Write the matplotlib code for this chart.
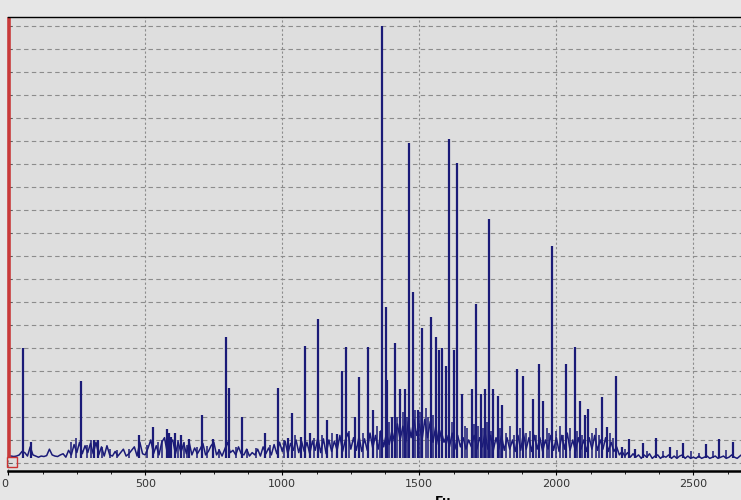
import numpy as np
import matplotlib.pyplot as plt

noise_step = 10
noise_amp = [
    0.30, 0.30, 0.28, 0.30, 0.35, 0.50, 0.45, 0.30, 0.70, 0.35,
    0.30, 0.25, 0.30, 0.28, 0.32, 0.60, 0.35, 0.30, 0.28, 0.35,
    0.40, 0.25, 0.55, 0.35, 0.80, 0.45, 0.90, 0.40, 0.75, 0.45,
    0.85, 0.40, 0.90, 0.35, 0.70, 0.30, 0.75, 0.35, 0.30, 0.50,
    0.30, 0.45, 0.60, 0.30, 0.40, 0.55, 0.70, 0.30, 0.90, 0.40,
    0.35, 0.65, 1.00, 0.40, 0.75, 0.35, 0.90, 1.10, 0.45, 0.85,
    1.00, 0.40, 0.90, 0.45, 0.85, 0.40, 0.90, 0.35, 0.65, 0.40,
    0.60, 0.85, 0.35, 0.50, 0.75, 0.90, 0.35, 0.55, 0.30, 0.60,
    0.90, 0.45, 0.55, 0.35, 0.70, 0.40, 0.35, 0.60, 0.30, 0.45,
    0.35, 0.60, 0.30, 0.70, 0.40, 0.65, 0.35, 0.80, 0.40, 0.90,
    0.50, 0.95, 0.40, 0.85, 0.55, 1.00, 0.45, 0.95, 0.50, 0.90,
    0.40, 0.95, 0.55, 1.10, 0.45, 1.05, 0.40, 1.00, 0.50, 0.95,
    0.55, 1.20, 0.50, 1.00, 1.30, 0.60, 1.10, 0.55, 1.15, 0.50,
    1.05, 0.55, 1.30, 0.65, 1.20, 0.60, 1.40, 0.70, 1.30, 0.80,
    1.40, 0.90, 1.70, 1.00, 1.60, 0.90, 1.80, 1.10, 1.90, 1.20,
    1.70, 1.00, 1.90, 1.10, 1.80, 0.90, 1.60, 0.80, 1.40, 0.90,
    1.20, 0.70, 1.30, 0.60, 1.20, 0.70, 1.10, 0.60, 1.00, 0.70,
    1.20, 0.60, 1.10, 0.70, 1.30, 0.60, 1.20, 0.55, 1.10, 0.60,
    1.20, 0.55, 1.10, 0.60, 1.00, 0.50, 1.20, 0.55, 1.30, 0.60,
    1.10, 0.50, 1.20, 0.60, 1.10, 0.50, 1.00, 0.60, 1.20, 0.55,
    1.10, 0.50, 1.20, 0.60, 1.30, 0.55, 1.00, 0.50, 1.10, 0.60,
    1.00, 0.50, 1.10, 0.60, 1.20, 0.55, 1.00, 0.60, 1.10, 0.50,
    0.90, 0.50, 0.70, 0.35, 0.50, 0.30, 0.45, 0.25, 0.40, 0.25,
    0.35, 0.20, 0.35, 0.25, 0.40, 0.20, 0.30, 0.35, 0.20, 0.30,
    0.25, 0.35, 0.20, 0.30, 0.20, 0.30, 0.35, 0.20, 0.30, 0.20,
    0.25, 0.20, 0.30, 0.20, 0.25, 0.30, 0.20, 0.25, 0.30, 0.20,
    0.25, 0.30, 0.20, 0.25, 0.35, 0.25, 0.20, 0.30, 0.40, 0.25,
]

# spectral lines
peak_hz = [52, 83, 265, 314, 328, 478, 527, 578, 586, 594, 608, 629, 661,
           707, 746, 794, 804, 854, 937, 983, 1020, 1034, 1067, 1083, 1101,
           1131, 1164, 1198, 1216, 1231, 1265, 1281, 1312, 1332, 1363, 1378,
           1383, 1399, 1411, 1430, 1448, 1462, 1478, 1494, 1511, 1541, 1561,
           1572, 1584, 1597, 1610, 1627, 1639, 1655, 1691, 1707, 1724, 1740,
           1755, 1770, 1786, 1801, 1855, 1877, 1916, 1937, 1953, 1985, 2035,
           2068, 2086, 2105, 2117, 2166, 2184, 2217, 2239, 2265, 2287, 2315,
           2364, 2415, 2461, 2545, 2595, 2644]
peak_amp = [5.0, 0.9, 3.57, 1.0, 1.0, 1.22, 1.55, 1.46, 1.3, 1.14, 1.3, 1.2, 1.05,
            2.09, 1.05, 5.49, 3.25, 2.0, 1.29, 3.25, 1.1, 2.19, 1.13, 5.09, 1.3,
            6.26, 1.87, 1.25, 4.0, 5.06, 2.0, 3.75, 5.06, 2.3, 19.0, 6.8,
            3.6, 2.0, 5.2, 3.2, 3.2, 13.9, 7.45, 2.3, 5.86, 6.36, 5.5,
            4.9, 4.98, 4.2, 14.1, 4.9, 13.07, 3.0, 3.2, 6.9, 3.0, 3.2,
            10.6, 3.2, 2.9, 2.5, 4.1, 3.8, 2.8, 4.3, 2.7, 9.45, 4.3,
            5.06, 2.7, 2.1, 2.33, 2.86, 1.58, 3.78, 0.71, 1.03, 0.6, 0.86,
            1.07, 0.71, 0.86, 0.83, 1.03, 0.93]

# small lines in the grass
grass_hz = [230, 246, 286, 300, 342, 372, 395, 440, 505, 545, 560, 618, 640,
            652, 690, 725, 770, 830, 870, 905, 955, 1005, 1048, 1115, 1145,
            1180, 1245, 1295, 1345, 1355, 1390, 1420, 1440, 1455, 1485, 1503,
            1525, 1533, 1550, 1618, 1665, 1675, 1700, 1715, 1732, 1748, 1762,
            1795, 1815, 1830, 1845, 1868, 1890, 1905, 1925, 1965, 1975, 2000,
            2015, 2025, 2050, 2075, 2095, 2130, 2145, 2155, 2195, 2205, 2250,
            2330, 2390, 2440, 2490, 2520, 2570, 2620, 2680]
grass_amp = [0.9, 1.1, 0.8, 1.0, 0.7, 0.6, 0.55, 0.6, 0.8, 0.9, 1.0, 1.0, 0.9,
             0.8, 0.7, 0.75, 0.6, 0.7, 0.6, 0.65, 0.8, 1.0, 1.2, 1.1, 1.2,
             1.3, 1.4, 1.3, 1.6, 1.4, 1.8, 2.0, 2.2, 2.0, 2.3, 2.2,
             2.4, 2.0, 2.1, 1.8, 1.6, 1.5, 1.7, 1.6, 1.5, 1.8, 1.4,
             1.5, 1.3, 1.6, 1.2, 1.5, 1.3, 1.4, 1.2, 1.5, 1.3, 1.4,
             1.6, 1.2, 1.5, 1.4, 1.2, 1.3, 1.5, 1.2, 1.3, 1.1, 0.6,
             0.5, 0.5, 0.55, 0.5, 0.45, 0.5, 0.55, 0.5]

x_major = [0, 500, 1000, 1500, 2000, 2500]
x_label = "Гц"

line_color = "#1b1b78"

fig = plt.figure(figsize=(7.41, 5.0), dpi=100, facecolor="#e6e6e6")
ax = fig.add_axes([8.3 / 741, 29 / 500, 870 / 741, 454 / 500])
ax.set_facecolor("#dedede")

noise_hz = np.arange(len(noise_amp)) * noise_step
ax.plot(noise_hz, noise_amp, color=line_color, lw=1.1)
ax.vlines(grass_hz, 0.2, grass_amp, color=line_color, lw=1.1)
ax.vlines(peak_hz, 0.2, peak_amp, color=line_color, lw=1.6)

ax.set_xlim(0, 3175)
ax.set_ylim(-0.35, 19.4)

ax.set_xticks(x_major)
labels = ax.set_xticklabels([str(v) for v in x_major], fontsize=8, color="#333333")
labels[0].set_ha("right")
ax.set_xticks(np.arange(0, 3175, 125), minor=True)
ax.tick_params(axis="x", which="major", length=3, width=0.8, pad=2.5)
ax.tick_params(axis="x", which="minor", length=2, width=0.6)

ax.set_yticks(range(20))
ax.set_yticklabels([])
ax.tick_params(axis="y", direction="in", length=3, width=0.6, color="#555555")

ax.set_axisbelow(True)
ax.grid(axis="y", color="#8c8c8c", ls=(0, (4, 3)), lw=0.8)
ax.grid(axis="x", color="#8c8c8c", ls=(0, (2, 2)), lw=0.8)

for s in ("left", "right"):
    ax.spines[s].set_visible(False)
ax.spines["bottom"].set_linewidth(1.8)
ax.spines["top"].set_linewidth(1.0)

# red cursor on the left edge
ax.axvline(3, ymin=0.031, color="#c83a3a", lw=2.6, clip_on=False,
           solid_capstyle="butt")
ax.plot([13.5], [0.02], marker="s", ms=7, mfc="none", mec="#cc3333", mew=1, clip_on=False)

ax.set_xlabel(x_label, fontsize=9, fontweight="bold", labelpad=4)

fig.savefig("out.png", dpi=100, facecolor=fig.get_facecolor())
